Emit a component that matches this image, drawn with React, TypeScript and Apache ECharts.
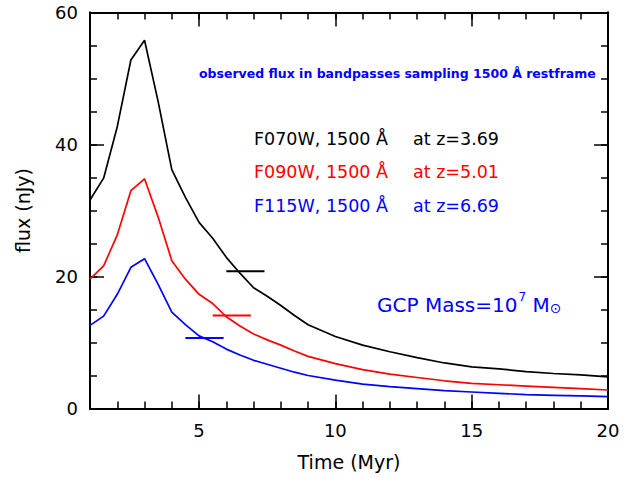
import React, { useEffect, useRef } from "react";
import * as echarts from "echarts";

const times = [1, 1.5, 2, 2.5, 3, 3.5, 4, 4.5, 5, 5.5, 6, 6.5, 7, 7.5, 8, 8.5, 9, 10, 11, 12, 13, 14, 15, 16, 17, 18, 19, 20];
const fluxF070W = [31.6, 34.9, 42.7, 52.8, 55.8, 46.5, 36.2, 32.0, 28.2, 25.8, 22.9, 20.5, 18.3, 17.0, 15.6, 14.1, 12.7, 10.9, 9.6, 8.6, 7.7, 6.9, 6.3, 6.0, 5.6, 5.3, 5.1, 4.8];
const fluxF090W = [19.6, 21.6, 26.3, 33.0, 34.8, 29.0, 22.4, 19.6, 17.3, 15.9, 13.9, 12.5, 11.3, 10.4, 9.6, 8.7, 7.9, 6.8, 5.9, 5.2, 4.7, 4.2, 3.8, 3.6, 3.4, 3.2, 3.0, 2.8];
const fluxF115W = [12.6, 14.0, 17.3, 21.4, 22.7, 18.8, 14.6, 12.7, 11.0, 10.1, 9.0, 8.1, 7.3, 6.7, 6.1, 5.5, 5.0, 4.3, 3.7, 3.3, 3.0, 2.7, 2.5, 2.3, 2.1, 2.0, 1.9, 1.8];

// observed-point horizontal bars: [tStart, tEnd, flux]
const barF070W = [6.0, 7.4, 20.8];
const barF090W = [5.5, 6.9, 14.1];
const barF115W = [4.5, 5.9, 10.7];

const xMajorTicks = [5, 10, 15, 20];
const yMajorTicks = [0, 20, 40, 60];

const FONT = "DejaVu Sans";

export default function App() {
  const ref = useRef<HTMLDivElement>(null);
  useEffect(() => {
    if (!ref.current) return;
    const chart = echarts.init(ref.current, null, { renderer: "svg" });
    const axisLine = { show: true, onZero: false, lineStyle: { color: "#000", width: 2 } };
    const mk = (arr: number[]) => times.map((t, i) => [t, arr[i]]);
    const bar = (b: number[]) => [[b[0], b[2]], [b[1], b[2]]];
    const xBase = { type: "value", min: 1, max: 20, splitLine: { show: false }, axisLine };
    const yBase = { type: "value", min: 0, max: 60, splitLine: { show: false }, axisLine };
    const labelStyle = { color: "#000", fontFamily: FONT, fontSize: 18 };
    const tickStyle = { color: "#000", width: 1.5 };
    chart.setOption({
      animation: false,
      backgroundColor: "#fff",
      grid: { left: 90, right: 23, top: 12.5, bottom: 69.5 },
      xAxis: [
        { ...xBase, position: "bottom", interval: 1, axisTick: { inside: true, length: 7, lineStyle: tickStyle }, axisLabel: { show: false },
          name: "Time (Myr)", nameLocation: "middle", nameGap: 44, nameTextStyle: { color: "#000", fontFamily: FONT, fontSize: 19 } },
        { ...xBase, position: "bottom", axisTick: { inside: true, length: 14, customValues: xMajorTicks, lineStyle: tickStyle },
          axisLabel: { ...labelStyle, margin: 13, customValues: xMajorTicks } },
        { ...xBase, position: "top", interval: 1, axisTick: { inside: true, length: 7, lineStyle: tickStyle }, axisLabel: { show: false } },
        { ...xBase, position: "top", axisTick: { inside: true, length: 14, customValues: xMajorTicks, lineStyle: tickStyle }, axisLabel: { show: false } },
      ],
      yAxis: [
        { ...yBase, position: "left", interval: 5, axisTick: { inside: true, length: 7, lineStyle: tickStyle }, axisLabel: { show: false },
          name: "flux (nJy)", nameLocation: "middle", nameGap: 58, nameTextStyle: { color: "#000", fontFamily: FONT, fontSize: 19 } },
        { ...yBase, position: "left", interval: 20, axisTick: { inside: true, length: 14, customValues: yMajorTicks, lineStyle: tickStyle },
          axisLabel: { ...labelStyle, margin: 12 } },
        { ...yBase, position: "right", interval: 5, axisTick: { inside: true, length: 7, lineStyle: tickStyle }, axisLabel: { show: false } },
        { ...yBase, position: "right", interval: 20, axisTick: { inside: true, length: 14, lineStyle: tickStyle }, axisLabel: { show: false } },
      ],
      series: [
        { type: "line", data: mk(fluxF070W), showSymbol: false, lineStyle: { color: "#000", width: 1.7 } },
        { type: "line", data: mk(fluxF090W), showSymbol: false, lineStyle: { color: "#ff0000", width: 1.7 } },
        { type: "line", data: mk(fluxF115W), showSymbol: false, lineStyle: { color: "#0000ff", width: 1.7 } },
        { type: "line", data: bar(barF070W), showSymbol: false, lineStyle: { color: "#000", width: 2 } },
        { type: "line", data: bar(barF090W), showSymbol: false, lineStyle: { color: "#ff0000", width: 2 } },
        { type: "line", data: bar(barF115W), showSymbol: false, lineStyle: { color: "#0000ff", width: 2 } },
      ],
      graphic: [
        { type: "text", left: 199, top: 67, style: { text: "observed flux in bandpasses sampling 1500 Å restframe", fill: "#0000ff", fontFamily: FONT, fontSize: 12.5, fontWeight: "bold" } },
        { type: "text", left: 254, top: 130, style: { text: "F070W, 1500 Å", fill: "#000", fontFamily: FONT, fontSize: 17.5 } },
        { type: "text", left: 413, top: 130, style: { text: "at z=3.69", fill: "#000", fontFamily: FONT, fontSize: 17.5 } },
        { type: "text", left: 254, top: 163, style: { text: "F090W, 1500 Å", fill: "#ff0000", fontFamily: FONT, fontSize: 17.5 } },
        { type: "text", left: 413, top: 163, style: { text: "at z=5.01", fill: "#ff0000", fontFamily: FONT, fontSize: 17.5 } },
        { type: "text", left: 254, top: 197, style: { text: "F115W, 1500 Å", fill: "#0000ff", fontFamily: FONT, fontSize: 17.5 } },
        { type: "text", left: 413, top: 197, style: { text: "at z=6.69", fill: "#0000ff", fontFamily: FONT, fontSize: 17.5 } },
        { type: "text", left: 377, top: 291, style: {
          text: "{a|GCP Mass=10}{s|7}{a| M}{b|⊙}",
          fill: "#0000ff", fontFamily: FONT,
          rich: {
            a: { fontSize: 20, fill: "#0000ff", fontFamily: FONT, verticalAlign: "bottom", lineHeight: 24 },
            s: { fontSize: 12, fill: "#0000ff", fontFamily: FONT, verticalAlign: "top", lineHeight: 24, padding: [0, 0, 10, 1] },
            b: { fontSize: 14, fill: "#0000ff", fontFamily: FONT, verticalAlign: "bottom", lineHeight: 24, padding: [8, 0, 0, 0] },
          },
        } },
      ],
    });
    return () => chart.dispose();
  }, []);
  return <div ref={ref} style={{ width: 631, height: 478, position: "absolute", left: 0, top: 0 }} />;
}
